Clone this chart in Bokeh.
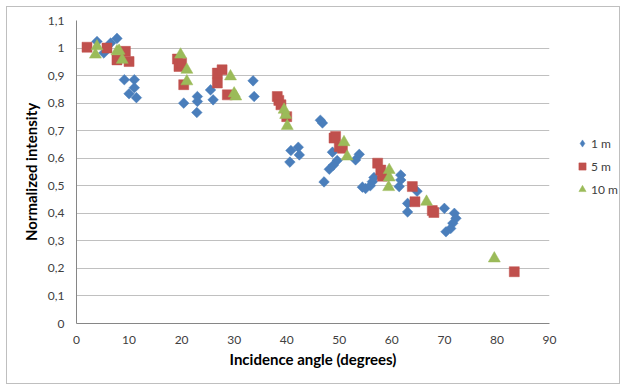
import math
from bokeh.plotting import figure
from bokeh.layouts import row
from bokeh.models import FixedTicker, Legend, LegendItem
from bokeh.embed import file_html
from bokeh.resources import INLINE

# ---- data ----
x_1m = [3.9, 5.2, 6.5, 7.7, 9.1, 11.0, 11.0, 10.0, 11.4,
        20.4, 23.0, 23.0, 22.9, 25.5, 26.0, 33.6, 33.8,
        40.8, 42.2, 42.4, 40.6, 46.4, 46.8, 48.7, 49.6, 48.9, 48.1, 47.1,
        53.8, 53.1, 54.4, 55.0, 55.9, 56.6, 56.3,
        61.7, 61.7, 61.4, 64.8, 63.0, 63.0,
        70.0, 71.9, 72.2, 71.6, 71.2, 70.3]
y_1m = [1.024, 0.982, 1.018, 1.035, 0.885, 0.885, 0.856, 0.834, 0.82,
        0.80, 0.824, 0.806, 0.766, 0.848, 0.812, 0.881, 0.824,
        0.628, 0.64, 0.612, 0.586, 0.738, 0.728, 0.622, 0.592, 0.575, 0.56, 0.514,
        0.614, 0.594, 0.495, 0.49, 0.50, 0.53, 0.515,
        0.539, 0.521, 0.497, 0.48, 0.436, 0.405,
        0.418, 0.40, 0.382, 0.364, 0.345, 0.333]

x_5m = [2.0, 5.8, 9.3, 7.7, 10.0,
        19.2, 19.5, 20.0, 20.4,
        26.8, 27.7, 26.8, 28.7,
        38.2, 38.5, 38.9, 40.0,
        49.0, 49.3, 50.0, 50.6,
        57.3, 57.9, 58.2,
        63.9, 64.4, 67.7, 68.0, 83.3]
y_5m = [1.003, 1.0, 0.988, 0.957, 0.951,
        0.96, 0.933, 0.945, 0.867,
        0.909, 0.921, 0.873, 0.83,
        0.824, 0.81, 0.794, 0.751,
        0.673, 0.679, 0.642, 0.636,
        0.582, 0.557, 0.535,
        0.497, 0.442, 0.41, 0.403, 0.188]

x_10m = [3.9, 3.6, 7.7, 8.1, 8.7,
         19.8, 21.0, 21.0,
         29.3, 30.0, 30.3,
         39.5, 39.8, 40.1,
         50.9, 51.5,
         59.5, 59.5, 59.4,
         66.6, 79.5]
y_10m = [1.006, 0.976, 0.988, 0.99, 0.957,
         0.976, 0.921, 0.879,
         0.897, 0.835, 0.824,
         0.776, 0.757, 0.717,
         0.658, 0.606,
         0.557, 0.53, 0.495,
         0.442, 0.236]

series_names = ["1 m", "5 m", "10 m"]
x_ticks = [0, 10, 20, 30, 40, 50, 60, 70, 80, 90]
y_ticks = [0, 0.1, 0.2, 0.3, 0.4, 0.5, 0.6, 0.7, 0.8, 0.9, 1.0, 1.1]
y_tick_labels = ["0", "0,1", "0,2", "0,3", "0,4", "0,5", "0,6", "0,7", "0,8", "0,9", "1", "1,1"]

BLUE = "#4A7EBB"
RED = "#C0504D"
GREEN = "#9BBB59"
FONT = "Lato"
H = 376          # inner height (inside the chart border)
OFF = 7          # border offset (6px margin + 1px border)
RB = 10          # right border of the main figure (room for the "90" label)
PW = 549 - OFF + RB

p = figure(width=PW, height=H, x_range=(0, 90), y_range=(0, 1.1),
           output_backend="svg", toolbar_location=None,
           min_border_left=76 - OFF, min_border_top=20 - OFF,
           min_border_bottom=H - (323 - OFF), min_border_right=RB)

p.outline_line_color = None
p.xgrid.grid_line_color = None
p.ygrid.grid_line_color = "#C0C0C0"
p.ygrid.grid_line_width = 1

p.xaxis.ticker = FixedTicker(ticks=x_ticks)
p.yaxis.ticker = FixedTicker(ticks=y_ticks)
p.yaxis.major_label_overrides = {t: l for t, l in zip(y_ticks, y_tick_labels)}

for ax in (p.xaxis, p.yaxis):
    ax.axis_line_color = "#868686"
    ax.major_tick_line_color = None
    ax.minor_tick_line_color = None
    ax.major_tick_out = 0
    ax.major_tick_in = 0
    ax.minor_tick_out = 0
    ax.major_label_text_font = FONT
    ax.major_label_text_font_size = "12px"
    ax.major_label_text_color = "#404040"
    ax.axis_label_text_font = FONT
    ax.axis_label_text_font_size = "15px"
    ax.axis_label_text_font_style = "bold"
    ax.axis_label_text_color = "#000000"

p.xaxis.axis_label = "Incidence angle (degrees)"
p.yaxis.axis_label = "Normalized intensity"
p.xaxis.major_label_standoff = 12
p.yaxis.major_label_standoff = 12
p.xaxis.axis_label_standoff = 3
p.yaxis.axis_label_standoff = 5

styles = [dict(marker="square", size=7.5, angle=math.pi / 4, fill_color=BLUE, line_color=BLUE),
          dict(marker="square", size=10, angle=0.0, fill_color=RED, line_color=RED),
          dict(marker="triangle", size=12, angle=0.0, fill_color=GREEN, line_color=GREEN)]
legend_markers = ["diamond", "square", "triangle"]

xs_all = [x_1m, x_5m, x_10m]
ys_all = [y_1m, y_5m, y_10m]
for xs, ys, st in zip(xs_all, ys_all, styles):
    p.scatter(xs, ys, line_width=0.5, **st)

# legend panel: a small figure whose range shows none of the points
lf = figure(width=612 - PW, height=H, x_range=(-2, -1), y_range=(0, 1.1),
            output_backend="svg", toolbar_location=None,
            min_border_left=0, min_border_right=0, min_border_top=0, min_border_bottom=0)
lf.axis.visible = False
lf.grid.visible = False
lf.outline_line_color = None

items = []
for name, xs, ys, st, mk in zip(series_names, xs_all, ys_all, styles, legend_markers):
    lst = dict(st)
    lst["marker"] = mk
    r = lf.scatter(xs, ys, line_width=0.5, **lst)
    items.append(LegendItem(label=name, renderers=[r]))

legend = Legend(items=items, location=(24 - RB, 124))
legend.border_line_color = None
legend.background_fill_alpha = 0
legend.padding = 0
legend.margin = 0
legend.spacing = 3
legend.glyph_width = 18
legend.glyph_height = 20
legend.label_height = 14
legend.label_standoff = 0
legend.label_text_font = FONT
legend.label_text_font_size = "12px"
legend.label_text_color = "#404040"
lf.add_layout(legend, "center")

layout = row(p, lf, margin=(6, 0, 0, 6))
layout.styles = {"border": "1px solid #BFBFBF"}
open("out.html", "w").write(file_html(layout, INLINE))
